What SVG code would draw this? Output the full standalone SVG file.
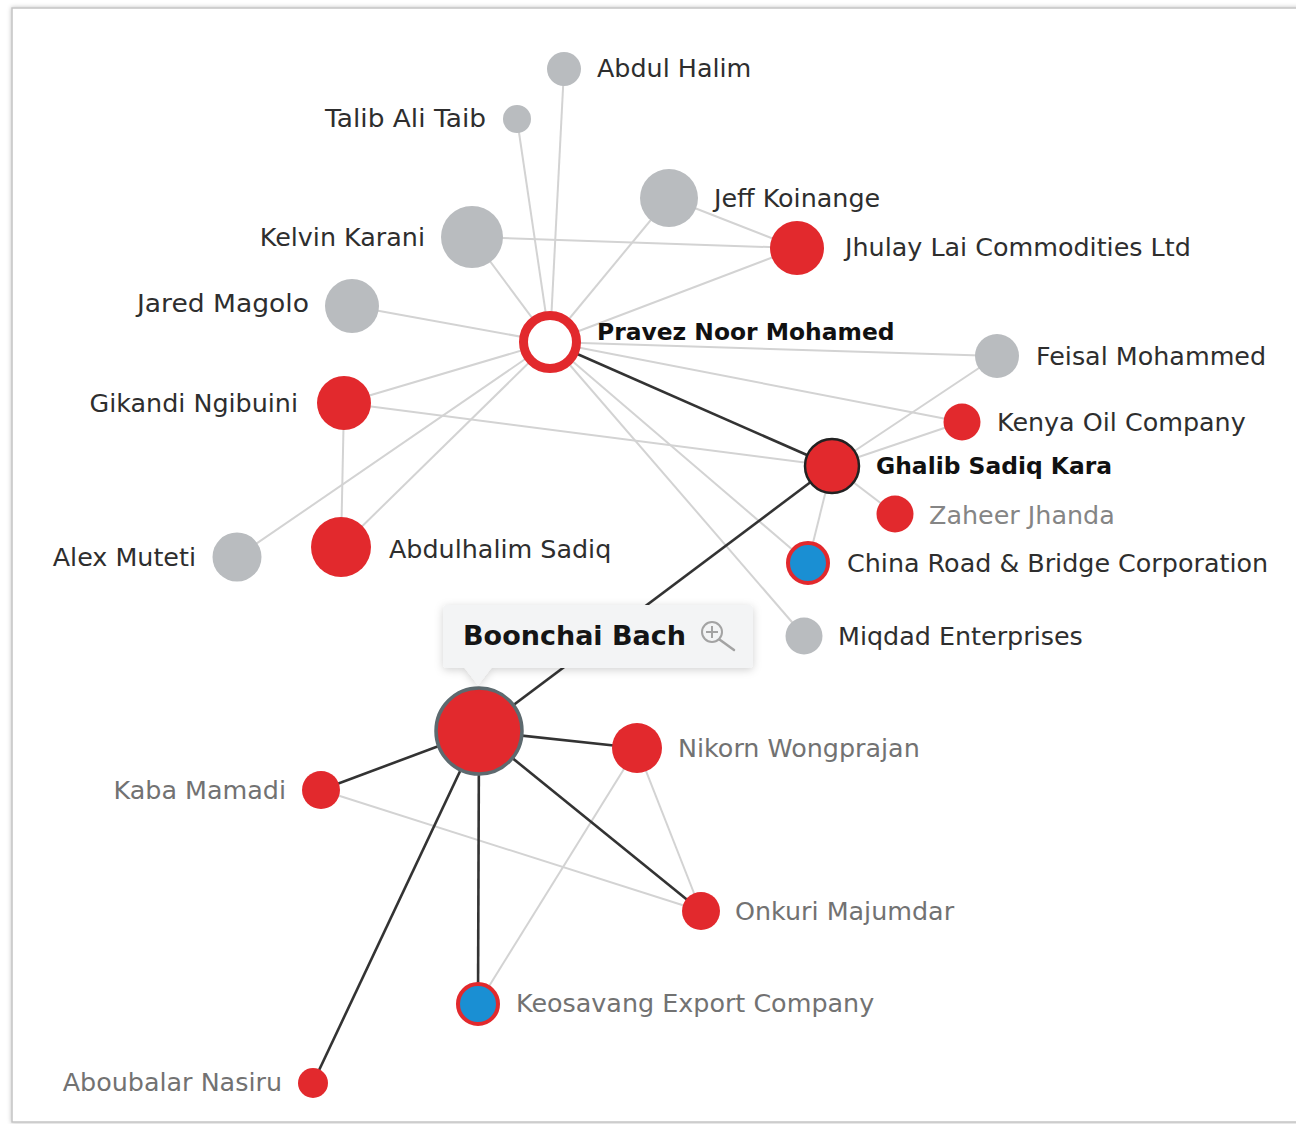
<svg xmlns="http://www.w3.org/2000/svg" width="1296" height="1124" viewBox="0 0 1296 1124">
<defs>
<filter id="sh" x="-20%" y="-40%" width="140%" height="180%">
<feDropShadow dx="0" dy="2" stdDeviation="4" flood-color="#000" flood-opacity="0.18"/>
</filter>
<filter id="fsh" x="-5%" y="-5%" width="110%" height="110%">
<feDropShadow dx="0" dy="0" stdDeviation="2" flood-color="#000" flood-opacity="0.25"/>
</filter>
<style>
.lt{stroke:#d3d3d3;stroke-width:2;fill:none}
.dk{stroke:#333;stroke-width:2.6;fill:none}
.g{fill:#b9bcbf}
.r{fill:#e2292d}
.b{fill:#1a8fd3;stroke:#e2292d;stroke-width:4}
text{font-family:"DejaVu Sans","Liberation Sans",sans-serif;font-size:25.4px;fill:#2e2e2e}
.lg{fill:#727272}
.lg2{fill:#858585}
.bd{font-weight:bold;font-size:23.4px;fill:#111}
.e{text-anchor:end}
</style>
</defs>
<rect x="0" y="0" width="1296" height="1124" fill="#fff"/>
<rect id="frame" x="12" y="8" width="1300" height="1114" fill="#fff" stroke="#c4c4c4" stroke-width="1.5" filter="url(#fsh)"/>
<g id="connectors">
<line class="lt" x1="550" y1="342" x2="564" y2="69"/>
<line class="lt" x1="550" y1="342" x2="517" y2="119"/>
<line class="lt" x1="550" y1="342" x2="669" y2="198"/>
<line class="lt" x1="550" y1="342" x2="472" y2="237"/>
<line class="lt" x1="550" y1="342" x2="797" y2="248"/>
<line class="lt" x1="550" y1="342" x2="352" y2="306"/>
<line class="lt" x1="550" y1="342" x2="997" y2="356"/>
<line class="lt" x1="550" y1="342" x2="962" y2="422"/>
<line class="lt" x1="550" y1="342" x2="344" y2="403"/>
<line class="lt" x1="550" y1="342" x2="237" y2="557"/>
<line class="lt" x1="550" y1="342" x2="341" y2="547"/>
<line class="lt" x1="550" y1="342" x2="808" y2="563"/>
<line class="lt" x1="550" y1="342" x2="804" y2="636"/>
<line class="lt" x1="472" y1="237" x2="797" y2="248"/>
<line class="lt" x1="669" y1="198" x2="797" y2="248"/>
<line class="lt" x1="344" y1="403" x2="832" y2="466"/>
<line class="lt" x1="344" y1="403" x2="341" y2="547"/>
<line class="lt" x1="832" y1="466" x2="997" y2="356"/>
<line class="lt" x1="832" y1="466" x2="962" y2="422"/>
<line class="lt" x1="832" y1="466" x2="895" y2="514"/>
<line class="lt" x1="832" y1="466" x2="808" y2="563"/>
<line class="lt" x1="321" y1="790" x2="701" y2="911"/>
<line class="lt" x1="637" y1="748" x2="701" y2="911"/>
<line class="lt" x1="637" y1="748" x2="478" y2="1004"/>
<line class="dk" x1="550" y1="342" x2="832" y2="466"/>
<line class="dk" x1="832" y1="466" x2="479" y2="731"/>
<line class="dk" x1="479" y1="731" x2="637" y2="748"/>
<line class="dk" x1="479" y1="731" x2="321" y2="790"/>
<line class="dk" x1="479" y1="731" x2="701" y2="911"/>
<line class="dk" x1="479" y1="731" x2="478" y2="1004"/>
<line class="dk" x1="479" y1="731" x2="313" y2="1083"/>
</g>
<g id="n-abdul-halim"><circle class="g" cx="564" cy="69" r="17"/><text x="597" y="77">Abdul Halim</text></g>
<g id="n-talib"><circle class="g" cx="517" cy="119" r="14"/><text class="e" x="486" y="127" textLength="161" lengthAdjust="spacingAndGlyphs">Talib Ali Taib</text></g>
<g id="n-jeff"><circle class="g" cx="669" cy="198" r="29"/><text x="714" y="207">Jeff Koinange</text></g>
<g id="n-kelvin"><circle class="g" cx="472" cy="237" r="31"/><text class="e" x="425" y="246">Kelvin Karani</text></g>
<g id="n-jhulay"><circle class="r" cx="797" cy="248" r="27"/><text x="845" y="256">Jhulay Lai Commodities Ltd</text></g>
<g id="n-jared"><circle class="g" cx="352" cy="306" r="27"/><text class="e" x="309" y="312" textLength="172" lengthAdjust="spacingAndGlyphs">Jared Magolo</text></g>
<g id="n-pravez"><circle cx="550" cy="342" r="26.5" fill="#fff" stroke="#e2292d" stroke-width="9"/><text class="bd" x="597" y="340">Pravez Noor Mohamed</text></g>
<g id="n-feisal"><circle class="g" cx="997" cy="356" r="22"/><text x="1036" y="365">Feisal Mohammed</text></g>
<g id="n-gikandi"><circle class="r" cx="344" cy="403" r="27"/><text class="e" x="298" y="412">Gikandi Ngibuini</text></g>
<g id="n-kenya-oil"><circle class="r" cx="962" cy="422" r="18.5"/><text x="997" y="431">Kenya Oil Company</text></g>
<g id="n-ghalib"><circle cx="832" cy="466" r="27" fill="#e2292d" stroke="#222" stroke-width="2.5"/><text class="bd" x="876" y="474">Ghalib Sadiq Kara</text></g>
<g id="n-zaheer"><circle class="r" cx="895" cy="514" r="18.5"/><text class="lg2" x="929" y="524">Zaheer Jhanda</text></g>
<g id="n-alex"><circle class="g" cx="237" cy="557" r="24.5"/><text class="e" x="196" y="566">Alex Muteti</text></g>
<g id="n-abdulhalim-sadiq"><circle class="r" cx="341" cy="547" r="30"/><text x="389" y="558">Abdulhalim Sadiq</text></g>
<g id="n-china-road"><circle class="b" cx="808" cy="563" r="20"/><text x="847" y="572" fill="#3a3a3a">China Road &amp; Bridge Corporation</text></g>
<g id="n-miqdad"><circle class="g" cx="804" cy="636" r="18.5"/><text x="838" y="645">Miqdad Enterprises</text></g>
<g id="n-nikorn"><circle class="r" cx="637" cy="748" r="25"/><text class="lg" x="678" y="757">Nikorn Wongprajan</text></g>
<g id="n-kaba"><circle class="r" cx="321" cy="790" r="19"/><text class="lg e" x="286" y="799">Kaba Mamadi</text></g>
<g id="n-onkuri"><circle class="r" cx="701" cy="911" r="19"/><text class="lg" x="735" y="920">Onkuri Majumdar</text></g>
<g id="n-keosavang"><circle class="b" cx="478" cy="1004" r="20"/><text class="lg" x="516" y="1012">Keosavang Export Company</text></g>
<g id="n-aboubalar"><circle class="r" cx="313" cy="1083" r="15"/><text class="lg e" x="282" y="1091">Aboubalar Nasiru</text></g>
<g id="n-boonchai">
<circle cx="479" cy="731" r="43" fill="#e2292d" stroke="#5d6a6f" stroke-width="3.5"/>
<g filter="url(#sh)">
<rect x="443" y="605" width="310" height="63" rx="4" fill="#f3f4f5"/>
<polygon points="464,667 492,667 478,685" fill="#f3f4f5"/>
</g>
<text x="463" y="645" style="font-weight:bold;font-size:27px;fill:#151515">Boonchai Bach</text>
<circle cx="712" cy="632" r="10" fill="none" stroke="#a3a3a3" stroke-width="2"/>
<line x1="712" y1="626" x2="712" y2="638" stroke="#a3a3a3" stroke-width="2"/>
<line x1="706" y1="632" x2="718" y2="632" stroke="#a3a3a3" stroke-width="2"/>
<line x1="719.5" y1="639.5" x2="734" y2="650" stroke="#a3a3a3" stroke-width="2.5" stroke-linecap="round"/>
</g>
</svg>
